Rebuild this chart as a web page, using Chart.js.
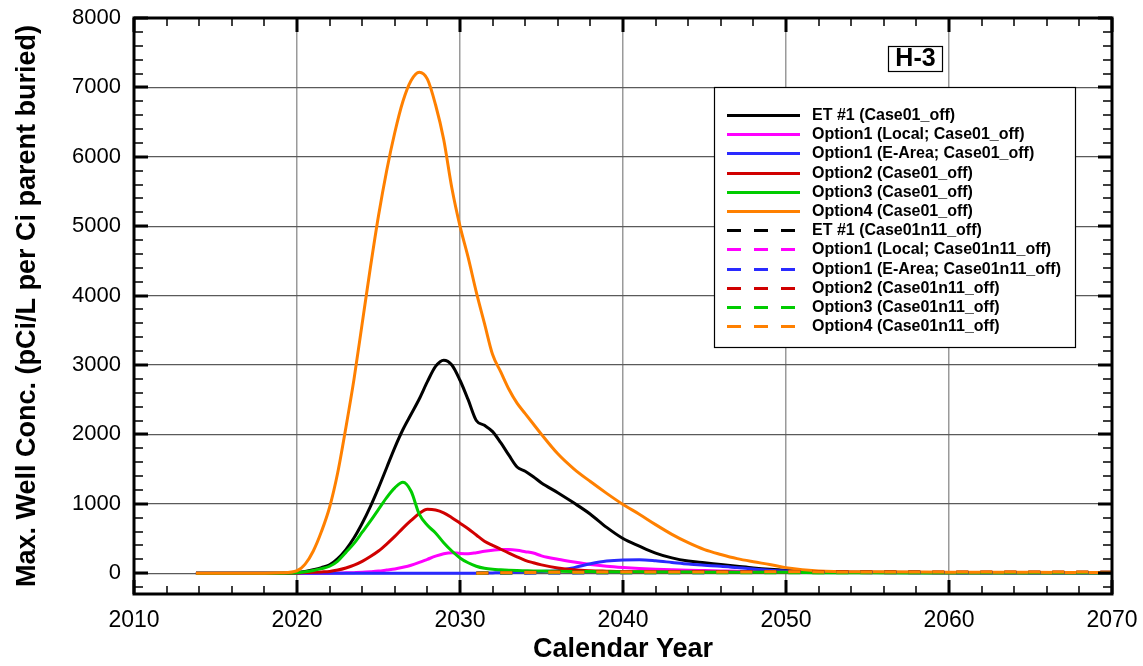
<!DOCTYPE html>
<html>
    <head>
        <title>H-3 Max. Well Conc.</title>
        <meta charset="UTF-8">
        <script src="https://cdn.jsdelivr.net/npm/chart.js@4.4.1/dist/chart.umd.min.js"></script>
        <style>
            body { margin: 0; background: #fff; }
            canvas { display: block; }
        </style>
    </head>
    <body>
        <canvas id="myChart" width="1143" height="666"></canvas>
        <script>
            // shared year grid for the Case01_off curves
            var years = [2013.8, 2016, 2018, 2019,
                2020, 2020.5, 2021, 2021.5, 2022, 2022.5, 2023, 2023.5, 2024, 2024.5,
                2025, 2025.5, 2026, 2026.5, 2027, 2027.5, 2028, 2028.5, 2029, 2029.5,
                2030, 2030.5, 2031, 2031.5, 2032, 2032.5, 2033, 2033.5, 2034, 2034.5, 2035,
                2036, 2037, 2038, 2039, 2040, 2041, 2042, 2043, 2044, 2045, 2046, 2047, 2048, 2049, 2050,
                2052, 2055, 2060, 2065, 2070];

            var et1 = [0, 0, 0, 0,
                10, 25, 50, 80, 120, 210, 340, 510, 720, 960,
                1230, 1520, 1810, 2070, 2290, 2510, 2760, 2980, 3070, 3000,
                2780, 2500, 2200, 2130, 2040, 1880, 1700, 1530, 1470, 1390, 1300,
                1160, 1010, 850, 660, 500, 390, 290, 220, 175, 150, 125, 100, 75, 55, 40,
                22, 14, 10, 8, 7];
            var opt1Local = [0, 0, 0, 0,
                0, 0, 0, 0, 0, 2, 5, 8, 12, 20,
                30, 45, 60, 85, 115, 155, 200, 245, 280, 295,
                285, 280, 295, 315, 330, 340, 340, 330, 310, 290, 250,
                200, 160, 125, 100, 82, 68, 58, 50, 43, 38, 33, 28, 24, 20, 18,
                14, 10, 8, 6, 5];
            var opt1EArea = [0, 0, 0, 0,
                0, 0, 0, 0, 0, 0, 0, 0, 0, 0,
                0, 0, 0, 0, 0, 0, 0, 0, 0, 0,
                0, 0, 0, 2, 4, 6, 10, 14, 18, 22, 26,
                36, 80, 135, 175, 190, 192, 178, 155, 132, 115, 100, 80, 60, 43, 32,
                20, 10, 6, 5, 4];
            var opt2 = [0, 0, 0, 0,
                3, 8, 12, 18, 25, 45, 75, 115, 170, 240,
                320, 420, 530, 650, 760, 860, 920, 910, 870, 800,
                720, 640, 550, 460, 400, 345, 290, 235, 185, 150, 120,
                75, 48, 35, 28, 22, 20, 19, 18, 17, 16, 16, 15, 15, 15, 15,
                12, 10, 8, 7, 6];
            var opt3 = [0, 0, 0, 0,
                5, 20, 40, 65, 100, 175, 300, 430, 590, 750,
                920, 1090, 1230, 1310, 1180, 850, 690, 580, 440, 320,
                220, 150, 100, 70, 55, 48, 42, 38, 35, 32, 30,
                27, 25, 23, 21, 20, 19, 18, 17, 16, 15, 14, 14, 13, 12, 12,
                8, 5, 4, 3, 3];
            var opt4 = [0, 0, 0, 5,
                35, 130, 320, 600, 950, 1450, 2100, 2800, 3600, 4400,
                5150, 5800, 6350, 6800, 7100, 7220, 7120, 6750, 6250, 5550,
                5000, 4550, 4050, 3600, 3150, 2900, 2650, 2450, 2300, 2150, 2000,
                1720, 1500, 1320, 1150, 990, 850, 700, 560, 440, 340, 270, 210, 165, 125, 80,
                33, 20, 15, 12, 10];

            // Case01n11_off curves stay close to zero
            var dashYears = [2031, 2033, 2035, 2040, 2045, 2050, 2055, 2060, 2065, 2070];
            var et1n11 = [0, 4, 10, 14, 16, 17, 16, 15, 14, 13];
            var opt1Localn11 = [0, 2, 6, 8, 9, 9, 8, 8, 7, 7];
            var opt1EArean11 = [0, 1, 3, 6, 8, 9, 9, 8, 8, 7];
            var opt2n11 = [0, 9, 14, 17, 17, 16, 15, 14, 13, 12];
            var opt3n11 = [0, 4, 7, 8, 8, 8, 7, 7, 6, 6];
            var opt4n11 = [0, 6, 12, 16, 18, 19, 18, 17, 16, 15];

            var seriesNames = ['ET #1', 'Option1 (Local;', 'Option1 (E-Area;', 'Option2', 'Option3', 'Option4'];
            var seriesColors = ['#000000', '#ff00ff', '#2a2aff', '#d00000', '#00cc00', '#ff8000'];

            var xTicks = [2010, 2020, 2030, 2040, 2050, 2060, 2070];
            var yTicks = [0, 1000, 2000, 3000, 4000, 5000, 6000, 7000, 8000];

            var FONT = '"Liberation Sans", Arial, Helvetica, sans-serif';

            function pts(xs, ys) {
                return ys.map(function (v, i) { return {x: xs[i], y: v}; });
            }

            function label(i, caseName) {
                var n = seriesNames[i];
                if (n.charAt(n.length - 1) === ';') {
                    return n + ' ' + caseName + ')';
                }
                return n + ' (' + caseName + ')';
            }

            var solid = [et1, opt1Local, opt1EArea, opt2, opt3, opt4];
            var dashed = [et1n11, opt1Localn11, opt1EArean11, opt2n11, opt3n11, opt4n11];
            var datasets = [];
            solid.forEach(function (s, i) {
                datasets.push({
                    label: label(i, 'Case01_off'),
                    data: pts(years, s),
                    borderColor: seriesColors[i],
                    borderWidth: 3,
                    borderDash: [],
                    order: 20 - i
                });
            });
            dashed.forEach(function (s, i) {
                datasets.push({
                    label: label(i, 'Case01n11_off'),
                    data: pts(dashYears, s),
                    borderColor: seriesColors[i],
                    borderWidth: 3,
                    borderDash: [12, 12],
                    order: 10 - i
                });
            });

            // frame with inward ticks on all four sides, plus tag and legend
            var frameTicks = {
                id: 'frameTicks',
                afterDatasetsDraw: function (chart) {
                    var ctx = chart.ctx, a = chart.chartArea;
                    var x = chart.scales.x, y = chart.scales.y;
                    ctx.save();
                    ctx.strokeStyle = '#000';
                    for (var v = 2010; v <= 2070; v += 2) {
                        var px = Math.round(x.getPixelForValue(v));
                        var major = v % 10 === 0;
                        var len = major ? 14 : 8;
                        ctx.lineWidth = major ? 3 : 1.5;
                        ctx.beginPath();
                        ctx.moveTo(px, a.bottom);
                        ctx.lineTo(px, a.bottom - len);
                        ctx.moveTo(px, a.top);
                        ctx.lineTo(px, a.top + len);
                        ctx.stroke();
                    }
                    for (var w = -200; w <= 8000; w += 200) {
                        var py = Math.round(y.getPixelForValue(w));
                        var maj = w % 1000 === 0;
                        var l2 = maj ? 14 : 9;
                        ctx.lineWidth = maj ? 3 : 1.5;
                        ctx.beginPath();
                        ctx.moveTo(a.left, py);
                        ctx.lineTo(a.left + l2, py);
                        ctx.moveTo(a.right, py);
                        ctx.lineTo(a.right - l2, py);
                        ctx.stroke();
                    }
                    ctx.lineWidth = 3;
                    ctx.strokeRect(a.left, a.top, a.right - a.left, a.bottom - a.top);

                    // H-3 tag
                    ctx.fillStyle = '#fff';
                    ctx.fillRect(888, 46, 54, 25);
                    ctx.lineWidth = 1.2;
                    ctx.strokeRect(888.5, 46.5, 54, 25);
                    ctx.fillStyle = '#000';
                    ctx.font = 'bold 25px ' + FONT;
                    ctx.textAlign = 'center';
                    ctx.textBaseline = 'middle';
                    ctx.fillText('H-3', 915.5, 59.5);

                    // legend box
                    var lx = 714, ly = 87, lw = 361, lh = 260;
                    ctx.fillStyle = '#fff';
                    ctx.fillRect(lx, ly, lw, lh);
                    ctx.lineWidth = 1.2;
                    ctx.strokeRect(lx + 0.5, ly + 0.5, lw, lh);
                    ctx.font = 'bold 16px ' + FONT;
                    ctx.textAlign = 'left';
                    chart.data.datasets.forEach(function (ds, i) {
                        var ry = Math.round(ly + 28 + i * 19.2) + 0.5;
                        ctx.strokeStyle = ds.borderColor;
                        ctx.lineWidth = 3;
                        ctx.setLineDash(ds.borderDash.length ? [14, 13] : []);
                        ctx.beginPath();
                        ctx.moveTo(727, ry);
                        ctx.lineTo(800, ry);
                        ctx.stroke();
                        ctx.setLineDash([]);
                        ctx.fillStyle = '#000';
                        ctx.fillText(ds.label, 812, ry);
                    });
                    ctx.restore();
                }
            };

            var ctx = document.getElementById('myChart').getContext('2d');
            var chart = new Chart(ctx, {
                type: 'line',
                data: { datasets: datasets },
                plugins: [frameTicks],
                options: {
                    responsive: false,
                    animation: false,
                    devicePixelRatio: 1,
                    layout: { padding: { left: 0, top: 18, right: 31, bottom: 0 } },
                    elements: {
                        point: { radius: 0 },
                        line: { cubicInterpolationMode: 'monotone', fill: false }
                    },
                    plugins: {
                        legend: { display: false },
                        tooltip: { enabled: false }
                    },
                    scales: {
                        x: {
                            type: 'linear',
                            min: 2010,
                            max: 2070,
                            afterBuildTicks: function (s) {
                                s.ticks = xTicks.map(function (v) { return {value: v}; });
                            },
                            afterFit: function (s) {
                                s.height = 72;
                                s.paddingLeft = 0;
                                s.paddingRight = 0;
                            },
                            border: { display: false },
                            grid: {
                                drawTicks: false,
                                lineWidth: 1.5,
                                color: function (c) {
                                    return (c.tick && (c.tick.value === 2010 || c.tick.value === 2070)) ? 'rgba(0,0,0,0)' : '#9a9a9a';
                                }
                            },
                            ticks: {
                                color: '#000',
                                padding: 13,
                                maxRotation: 0,
                                font: { family: FONT, size: 23 },
                                callback: function (v) { return String(v); }
                            },
                            title: {
                                display: true,
                                text: 'Calendar Year',
                                color: '#000',
                                font: { family: FONT, size: 27, weight: 'bold' },
                                padding: { top: 0, bottom: 0 }
                            }
                        },
                        y: {
                            min: -300,
                            max: 8000,
                            afterBuildTicks: function (s) {
                                s.ticks = yTicks.map(function (v) { return {value: v}; });
                            },
                            afterFit: function (s) {
                                s.width = 134;
                                s.paddingTop = 0;
                                s.paddingBottom = 0;
                            },
                            border: { display: false },
                            grid: {
                                drawTicks: false,
                                lineWidth: 1.2,
                                color: function (c) {
                                    return (c.tick && c.tick.value === 8000) ? 'rgba(0,0,0,0)' : '#5a5a5a';
                                }
                            },
                            ticks: {
                                color: '#000',
                                padding: 13,
                                font: { family: FONT, size: 22 },
                                callback: function (v) { return String(v); }
                            },
                            title: {
                                display: true,
                                text: 'Max. Well Conc. (pCi/L per Ci parent buried)',
                                color: '#000',
                                font: { family: FONT, size: 27, weight: 'bold' },
                                padding: { top: 11, bottom: 0 }
                            }
                        }
                    }
                }
            });
        </script>
    </body>
</html>
